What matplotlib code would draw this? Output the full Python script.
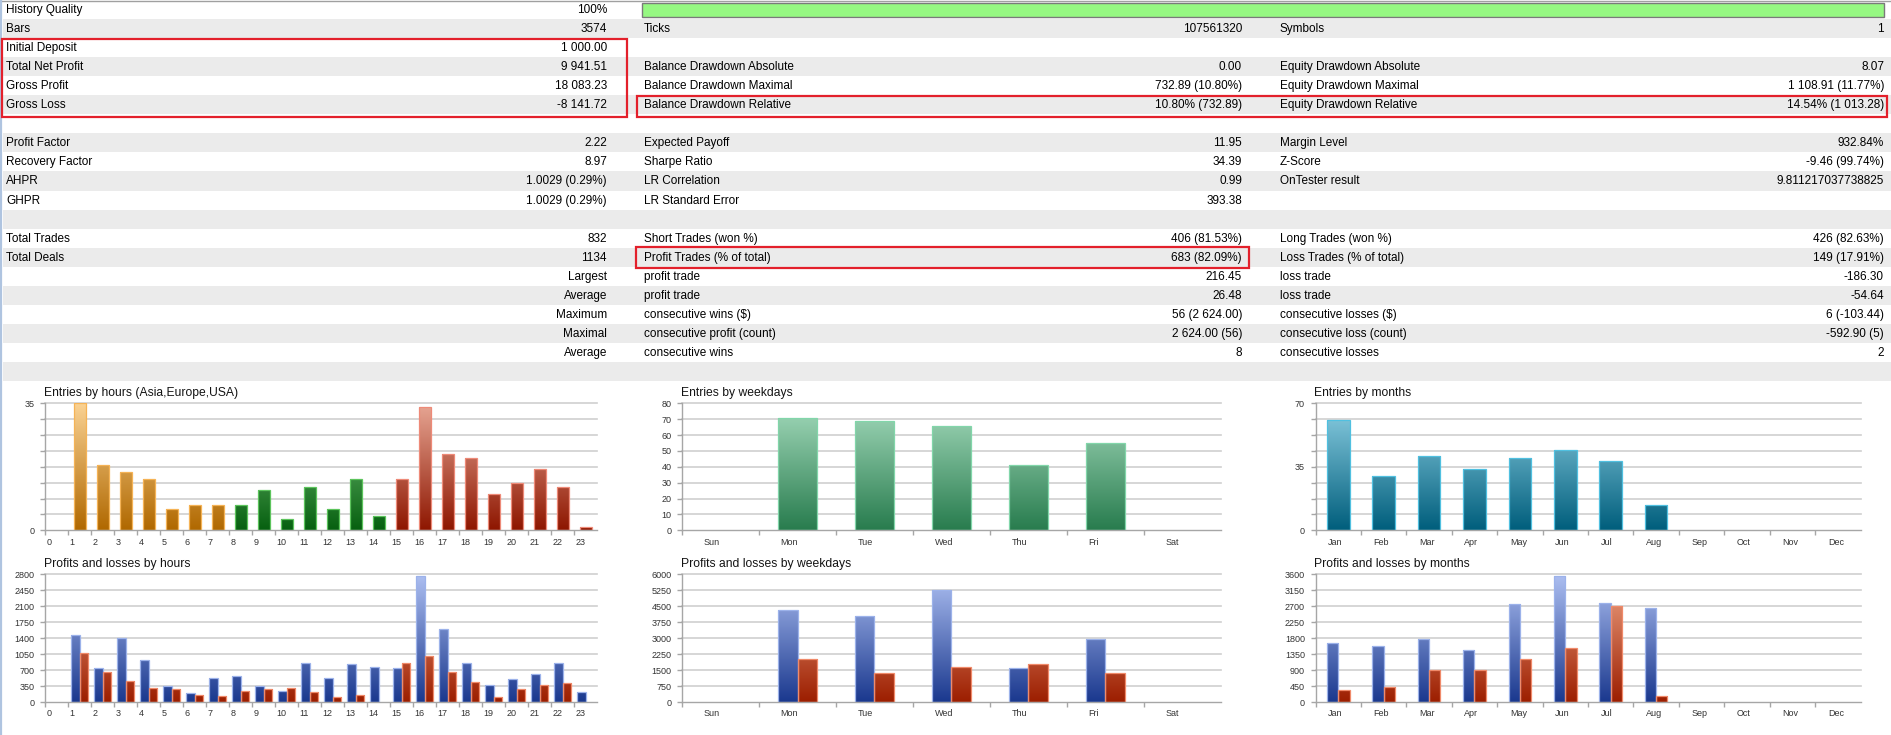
import numpy as np
import matplotlib
matplotlib.use('Agg')
import matplotlib.pyplot as plt
from matplotlib.patches import Rectangle
from matplotlib.colors import LinearSegmentedColormap

plt.rcParams['font.family'] = ['Liberation Sans', 'DejaVu Sans']

W, H = 1891, 735
DPI = 100

# ---------------- table data ----------------
col1_labels = ["History Quality", "Bars", "Initial Deposit", "Total Net Profit", "Gross Profit", "Gross Loss", "",
               "Profit Factor", "Recovery Factor", "AHPR", "GHPR", "",
               "Total Trades", "Total Deals", "", "", "", "", "", ""]
col1_values = ["100%", "3574", "1 000.00", "9 941.51", "18 083.23", "-8 141.72", "",
               "2.22", "8.97", "1.0029 (0.29%)", "1.0029 (0.29%)", "",
               "832", "1134", "Largest", "Average", "Maximum", "Maximal", "Average", ""]
col2_labels = ["", "Ticks", "", "Balance Drawdown Absolute", "Balance Drawdown Maximal", "Balance Drawdown Relative", "",
               "Expected Payoff", "Sharpe Ratio", "LR Correlation", "LR Standard Error", "",
               "Short Trades (won %)", "Profit Trades (% of total)", "profit trade", "profit trade",
               "consecutive wins ($)", "consecutive profit (count)", "consecutive wins", ""]
col2_values = ["", "107561320", "", "0.00", "732.89 (10.80%)", "10.80% (732.89)", "",
               "11.95", "34.39", "0.99", "393.38", "",
               "406 (81.53%)", "683 (82.09%)", "216.45", "26.48", "56 (2 624.00)", "2 624.00 (56)", "8", ""]
col3_labels = ["", "Symbols", "", "Equity Drawdown Absolute", "Equity Drawdown Maximal", "Equity Drawdown Relative", "",
               "Margin Level", "Z-Score", "OnTester result", "", "",
               "Long Trades (won %)", "Loss Trades (% of total)", "loss trade", "loss trade",
               "consecutive losses ($)", "consecutive loss (count)", "consecutive losses", ""]
col3_values = ["", "1", "", "8.07", "1 108.91 (11.77%)", "14.54% (1 013.28)", "",
               "932.84%", "-9.46 (99.74%)", "9.811217037738825", "", "",
               "426 (82.63%)", "149 (17.91%)", "-186.30", "-54.64", "6 (-103.44)", "-592.90 (5)", "2", ""]
history_quality = 100

# ---------------- chart data ----------------
hours = [str(h) for h in range(24)]
hour_session = ["Asia"] * 8 + ["Europe"] * 7 + ["USA"] * 9
entries_hours = [0, 35, 18, 16, 14, 6, 7, 7, 7, 11, 3, 12, 6, 14, 4, 14, 34, 21, 20, 10, 13, 17, 12, 1]
weekdays = ["Sun", "Mon", "Tue", "Wed", "Thu", "Fri", "Sat"]
entries_weekdays = [0, 71, 69, 66, 41, 55, 0]
months = ["Jan", "Feb", "Mar", "Apr", "May", "Jun", "Jul", "Aug", "Sep", "Oct", "Nov", "Dec"]
entries_months = [61, 30, 41, 34, 40, 44, 38, 14, 0, 0, 0, 0]

profit_hours = [0, 1470, 750, 1390, 910, 350, 190, 530, 560, 350, 240, 850,
                530, 830, 770, 750, 2750, 1600, 850, 370, 510, 610, 850, 210]
loss_hours = [0, 1070, 650, 450, 310, 280, 160, 130, 230, 290, 310, 210,
              120, 160, 0, 850, 1010, 650, 440, 100, 290, 370, 420, 0]
profit_weekdays = [0, 4300, 4050, 5250, 1600, 2950, 0]
loss_weekdays = [0, 2000, 1350, 1650, 1780, 1360, 0]
profit_months = [1670, 1570, 1780, 1470, 2760, 3550, 2780, 2640, 0, 0, 0, 0]
loss_months = [330, 430, 900, 900, 1220, 1520, 2700, 160, 0, 0, 0, 0]

# ---------------- styles ----------------
STRIPE = '#EBEBEB'
REDBOX = '#E3202B'
GRID = '#CFCFCF'
AXC = '#A6A6A6'
TICKC = '#333333'
session_colors = {
    "Asia": ('#FBD394', '#B06800', '#F5B356'),
    "Europe": ('#84CC84', '#066010', '#5CC45C'),
    "USA": ('#E8A896', '#8E1600', '#EE8A78'),
}
WEEK_C = ('#A4DABC', '#287C4E', '#82D6AA')
MONTH_C = ('#8ED0E4', '#005E7C', '#50C0E0')
PROFIT_C = ('#AEC0F2', '#1A388E', '#9CB2EA')
LOSS_C = ('#F2A888', '#9C1E00', '#F08A6A')

fig = plt.figure(figsize=(W / DPI, H / DPI), dpi=DPI)
fig.patch.set_facecolor('white')
bg = fig.add_axes([0, 0, 1, 1])
bg.set_xlim(0, W)
bg.set_ylim(H, 0)
bg.axis('off')

RH = 19.05
nrows = len(col1_labels)
for i in range(nrows):
    if i % 2 == 1:
        bg.add_patch(Rectangle((3, i * RH), W - 3, RH, facecolor=STRIPE, edgecolor='none', zorder=0))
bg.plot([0, W], [0.5, 0.5], color='#A0A0A0', lw=1.0, zorder=1)
bg.plot([1, 1], [0, H], color='#AFC4E0', lw=1.6, zorder=1)

FS = 8.5
X1L, X1R, X2L, X2R, X3L, X3R = 6, 607, 644, 1242, 1280, 1884
for i in range(nrows):
    yc = (i + 0.5) * RH + 0.5
    for txt, x, ha in ((col1_labels[i], X1L, 'left'), (col1_values[i], X1R, 'right'),
                       (col2_labels[i], X2L, 'left'), (col2_values[i], X2R, 'right'),
                       (col3_labels[i], X3L, 'left'), (col3_values[i], X3R, 'right')):
        if txt:
            bg.text(x, yc, txt, ha=ha, va='center', fontsize=FS, color='black', zorder=3)

# history quality bar
bg.add_patch(Rectangle((642, 3), (X3R - 642) * history_quality / 100.0, 14,
                       facecolor='#96F882', edgecolor='#7A7A7A', lw=1.0, zorder=2))

# red highlight boxes
for (x0, y0, x1, y1) in [(1.5, 2 * RH + 0.5, 627, 6 * RH + 2.5),
                         (637, 5 * RH + 0.5, 1887, 6 * RH + 3),
                         (636, 13 * RH - 0.5, 1249, 14 * RH + 1.5)]:
    bg.add_patch(Rectangle((x0, y0), x1 - x0, y1 - y0, fill=False, edgecolor=REDBOX, lw=1.6, zorder=4))


# ---------------- charts ----------------
def px_rect(x0, y0, w, h):
    return [x0 / W, 1 - (y0 + h) / H, w / W, h / H]


grad = np.linspace(0, 1, 256).reshape(-1, 1)


def gradient_bars(ax, xs, heights, width, colors, ymax):
    top_c, bot_c, edge_c = colors
    cmap = LinearSegmentedColormap.from_list('g', [bot_c, top_c])
    for x, h in zip(xs, heights):
        if h <= 0:
            continue
        b = ax.bar([x], [h], width=width, facecolor='none', edgecolor=edge_c, linewidth=0.9, zorder=4)[0]
        im = ax.imshow(grad, extent=[b.get_x(), b.get_x() + b.get_width(), 0, ymax], origin='lower',
                       cmap=cmap, aspect='auto', zorder=3, interpolation='bilinear')
        im.set_clip_path(b)


def make_chart(x0, y0, w, h, cats, ymax, nsteps, shown, title, lbl_dx):
    n = len(cats)
    ax = fig.add_axes(px_rect(x0, y0, w, h))
    ax.set_facecolor('none')
    levels = [ymax * k / nsteps for k in range(nsteps + 1)]
    for lv in levels[1:]:
        ax.axhline(lv, color=GRID, lw=1.2, zorder=1, clip_on=False)
    for s in ('top', 'right'):
        ax.spines[s].set_visible(False)
    for s in ('left', 'bottom'):
        ax.spines[s].set_color(AXC)
        ax.spines[s].set_linewidth(1.0)
        ax.spines[s].set_zorder(5)
    ax.set_yticks(levels)
    ax.set_yticklabels([str(int(lv)) if int(lv) in shown else '' for lv in levels])
    ax.tick_params(axis='y', length=3.6, width=1.0, color=AXC, pad=4, labelsize=6.5, labelcolor=TICKC)
    ax.set_xticks(range(n))
    ax.tick_params(axis='x', length=3.6, width=1.0, color=AXC, labelbottom=False)
    for i, c in enumerate(cats):
        ax.annotate(c, xy=(i + 0.5, 0), xycoords='data',
                    xytext=(lbl_dx * 72 / DPI, -12 * 72 / DPI), textcoords='offset points',
                    ha='left', va='center', fontsize=6.5, color=TICKC, annotation_clip=False)
    ax.annotate(title, xy=(0, 1), xycoords='axes fraction', xytext=(-1 * 72 / DPI, 10 * 72 / DPI),
                textcoords='offset points', ha='left', va='center', fontsize=8.7, color='#141414')
    return ax


TOP_Y, TOP_H = 403.3, 127.0
BOT_Y, BOT_H = 574.0, 128.0
C1X, C1W = 45.3, 552.0
C2X, C2W = 682.0, 539.0
C3X, C3W = 1315.5, 545.0

# Entries by hours
ax = make_chart(C1X, TOP_Y, C1W, TOP_H, hours, 35, 8, [0, 35], "Entries by hours (Asia,Europe,USA)", -10)
for sess in ("Asia", "Europe", "USA"):
    xs = [i + 0.5 for i in range(24) if hour_session[i] == sess]
    hs = [entries_hours[i] for i in range(24) if hour_session[i] == sess]
    gradient_bars(ax, xs, hs, 0.5, session_colors[sess], 35)
ax.set_xlim(0, 24); ax.set_ylim(0, 35)

# Entries by weekdays
ax = make_chart(C2X, TOP_Y, C2W, TOP_H, weekdays, 80, 8, list(range(0, 81, 10)), "Entries by weekdays", -17)
gradient_bars(ax, np.arange(7) + 0.5, entries_weekdays, 0.5, WEEK_C, 80)
ax.set_xlim(0, 7); ax.set_ylim(0, 80)

# Entries by months
ax = make_chart(C3X, TOP_Y, C3W, TOP_H, months, 70, 8, [0, 35, 70], "Entries by months", -10)
gradient_bars(ax, np.arange(12) + 0.5, entries_months, 0.5, MONTH_C, 70)
ax.set_xlim(0, 12); ax.set_ylim(0, 70)

# Profits and losses by hours
ax = make_chart(C1X, BOT_Y, C1W, BOT_H, hours, 2800, 8, list(range(0, 2801, 350)), "Profits and losses by hours", -10)
bw = 0.37
gradient_bars(ax, np.arange(24) + 0.5 - bw / 2, profit_hours, bw, PROFIT_C, 2800)
gradient_bars(ax, np.arange(24) + 0.5 + bw / 2, loss_hours, bw, LOSS_C, 2800)
ax.set_xlim(0, 24); ax.set_ylim(0, 2800)

# Profits and losses by weekdays
ax = make_chart(C2X, BOT_Y, C2W, BOT_H, weekdays, 6000, 8, list(range(0, 6001, 750)), "Profits and losses by weekdays", -17)
bw = 0.25
gradient_bars(ax, np.arange(7) + 0.5 - bw / 2, profit_weekdays, bw, PROFIT_C, 6000)
gradient_bars(ax, np.arange(7) + 0.5 + bw / 2, loss_weekdays, bw, LOSS_C, 6000)
ax.set_xlim(0, 7); ax.set_ylim(0, 6000)

# Profits and losses by months
ax = make_chart(C3X, BOT_Y, C3W, BOT_H, months, 3600, 8, list(range(0, 3601, 450)), "Profits and losses by months", -10)
gradient_bars(ax, np.arange(12) + 0.5 - bw / 2, profit_months, bw, PROFIT_C, 3600)
gradient_bars(ax, np.arange(12) + 0.5 + bw / 2, loss_months, bw, LOSS_C, 3600)
ax.set_xlim(0, 12); ax.set_ylim(0, 3600)

fig.savefig('out.png', dpi=DPI, facecolor='white')
